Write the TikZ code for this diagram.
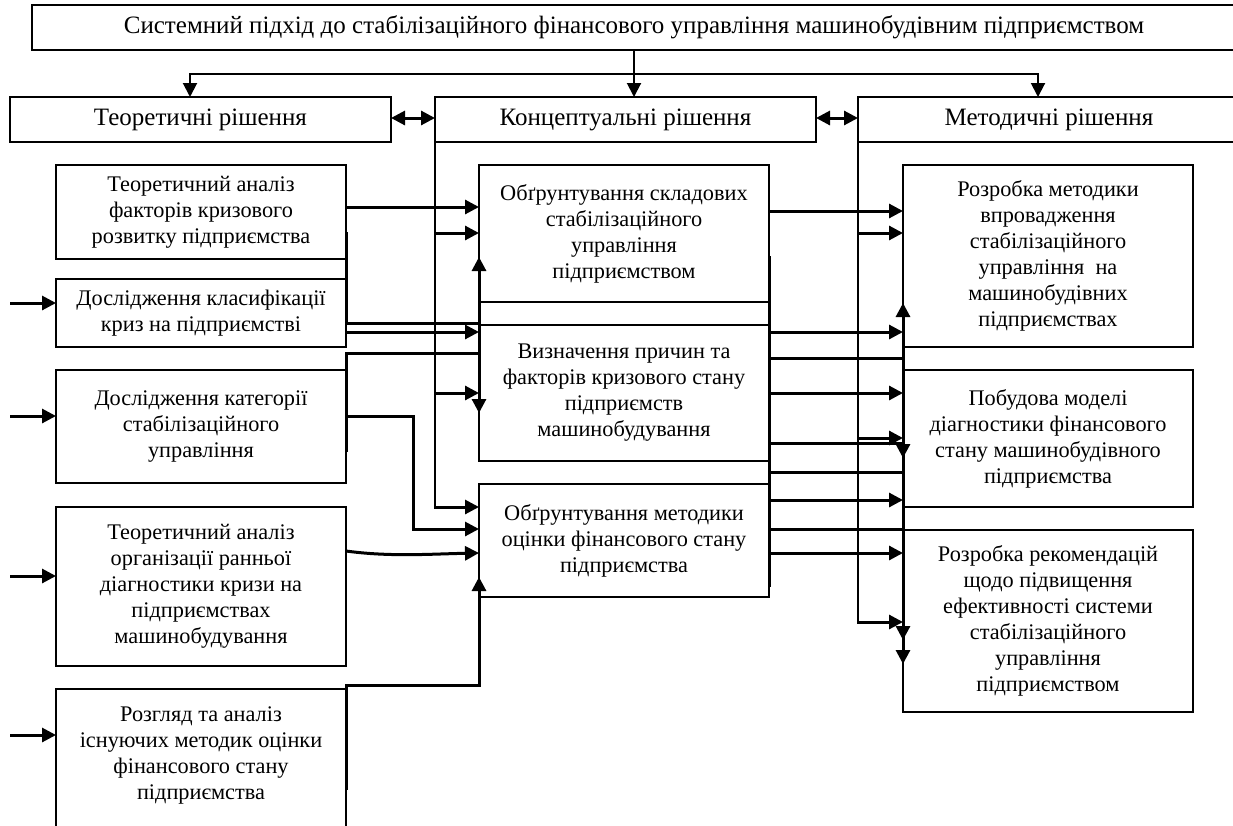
\documentclass[tikz,border=0pt]{standalone}
\usepackage{fontspec}
\setmainfont{Liberation Serif}
\usetikzlibrary{arrows.meta}
\newcommand\bxfont{\fontsize{22.3}{26}\selectfont}
\newcommand\hdfont{\fontsize{25}{29}\selectfont}
\tikzset{
  box/.style={draw, line width=1.4pt, inner sep=0pt, outer sep=0pt, align=center, font=\bxfont},
  hdr/.style={box, font=\hdfont, minimum height=45pt},
  thk/.style={line width=3pt},
  med/.style={line width=2pt},
  thn/.style={line width=1.3pt},
  arrowed/.style={-{Triangle[length=14pt,width=14pt]}},
  twohead/.style={{Triangle[length=14pt,width=14pt]}-{Triangle[length=14pt,width=14pt]}},
}
\begin{document}
\begin{tikzpicture}[x=1pt,y=-1pt]
\useasboundingbox (0,0) rectangle (1233,825);

% header row
\node[hdr, minimum width=1204pt] (T) at (634,27.5)
  {Системний підхід до стабілізаційного фінансового управління машинобудівним підприємством};
\node[hdr, minimum width=381pt] (Teo) at (200.5,119.5) {Теоретичні рішення};
\node[hdr, minimum width=381pt] (Kon) at (625.5,119.5) {Концептуальні рішення};
\node[hdr, minimum width=382pt] (Met) at (1049,119.5) {Методичні рішення};

% theoretical column
\node[box, minimum width=290pt, minimum height=94pt] (L1) at (201,212)
  {Теоретичний аналіз\\факторів кризового\\розвитку підприємства};
\node[box, minimum width=290pt, minimum height=68pt] (L2) at (201,313)
  {Дослідження класифікації\\криз на підприємстві};
\node[box, minimum width=290pt, minimum height=113pt] (L3) at (201,426.5)
  {Дослідження категорії\\стабілізаційного\\управління};
\node[box, minimum width=290pt, minimum height=159pt] (L4) at (201,586.5)
  {Теоретичний аналіз\\організації ранньої\\діагностики кризи на\\підприємствах\\машинобудування};
\node[box, minimum width=290pt, minimum height=156pt] (L5) at (201,767) {};
\node[font=\bxfont, align=center, inner sep=0pt] (L5t) at (201,755)
  {Розгляд та аналіз\\існуючих методик оцінки\\фінансового стану\\підприємства};

% conceptual column
\node[box, minimum width=290pt, minimum height=137pt] (M1) at (624,233.5)
  {Обґрунтування складових\\стабілізаційного\\управління\\підприємством};
\node[box, minimum width=290pt, minimum height=136pt] (M2) at (624,393)
  {Визначення причин та\\факторів кризового стану\\підприємств\\машинобудування};
\node[box, minimum width=290pt, minimum height=113pt] (M3) at (624,540.5)
  {Обґрунтування методики\\оцінки фінансового стану\\підприємства};

% methodical column
\node[box, minimum width=290pt, minimum height=182pt] (R1) at (1048,256)
  {Розробка методики\\впровадження\\стабілізаційного\\управління~ на\\машинобудівних\\підприємствах};
\node[box, minimum width=290pt, minimum height=137pt] (R2) at (1048,438.5)
  {Побудова моделі\\діагностики фінансового\\стану машинобудівного\\підприємства};
\node[box, minimum width=290pt, minimum height=182pt] (R3) at (1048,621)
  {Розробка рекомендацій\\щодо підвищення\\ефективності системи\\стабілізаційного\\управління\\підприємством};

% header links
\draw[med,arrowed] (T.south -| 634,0) -- (Kon.north -| 634,0);
\draw[med,twohead] (Teo.north -| 190,0) -- (190,74) -- (1038,74) -- (Met.north -| 1038,0);
\draw[thk,twohead] (Teo.east |- 0,118) -- (Kon.west |- 0,118);
\draw[thk,twohead] (Kon.east |- 0,118) -- (Met.west |- 0,118);

% bus from the conceptual block
\draw[thn] (Kon.south west) -- (435,507);
\draw[thk,arrowed] (435,233) -- (M1.west |- 0,233);
\draw[thk,arrowed] (435,393) -- (M2.west |- 0,393);
\draw[thk,arrowed] (434.4,507) -- (M3.west |- 0,507);

% bus from the methodical block
\draw[thn] (Met.south west) -- (858,622);
\draw[thk,arrowed] (858,233) -- (R1.west |- 0,233);
\draw[thk,arrowed] (858,438) -- (R2.west |- 0,438);
\draw[thk,arrowed] (857.4,622) -- (R3.west |- 0,622);

% inputs on the left
\foreach \y/\n in {303/L2, 416/L3, 576/L4, 735/L5}
  \draw[thk,arrowed] (10,\y) -- (\n.west |- 0,\y);

% theoretical to conceptual
\draw[thk,arrowed] (L1.east |- 0,207) -- (M1.west |- 0,207);
\draw[thk] (L1.east |- 0,232) -- (L2.east |- 0,323) -- (M2.north west |- 0,323);
\draw[thk,arrowed] (L2.east |- 0,332) -- (M2.west |- 0,332);
\draw[thk] (L3.east |- 0,452) -- (L3.east |- 0,353) -- (M2.west |- 0,353);
\draw[thk,arrowed] (L3.east |- 0,416) -- (413,416) -- (413,529) -- (M3.west |- 0,529);
\draw[thk,arrowed] (L4.east |- 0,551) .. controls (390,557) and (430,554) .. (M3.west |- 0,553);
\draw[thk,arrowed] (L5.east |- 0,790) -- (L5.east |- 0,685) -- (M3.west |- 0,685) -- (M3.west |- 0,577);
\draw[thk,arrowed] (M2.north west |- 0,323) -- (M1.west |- 0,257);
\draw[thk,arrowed] (M2.north west |- 0,323) -- (M2.west |- 0,413);

% conceptual to methodical
\draw[thk] (M1.east |- 0,256) -- (M3.east |- 0,587);
\draw[thk,arrowed] (M1.east |- 0,211) -- (R1.west |- 0,211);
\foreach \y in {332,393,500,553}
  \draw[thk,arrowed] (M2.east |- 0,\y) -- (R1.west |- 0,\y);
\foreach \y in {358,443,472,529}
  \draw[thk] (M2.east |- 0,\y) -- (R1.west |- 0,\y);
\draw[thk,arrowed] (R1.west |- 0,358) -- (R1.west |- 0,303);
\draw[thk,arrowed] (R1.west |- 0,358) -- (R1.west |- 0,458);
\draw[thk,arrowed] (R1.west |- 0,443) -- (R1.west |- 0,640);
\draw[thk,arrowed] (R1.west |- 0,472) -- (R1.west |- 0,664);
\end{tikzpicture}
\end{document}
